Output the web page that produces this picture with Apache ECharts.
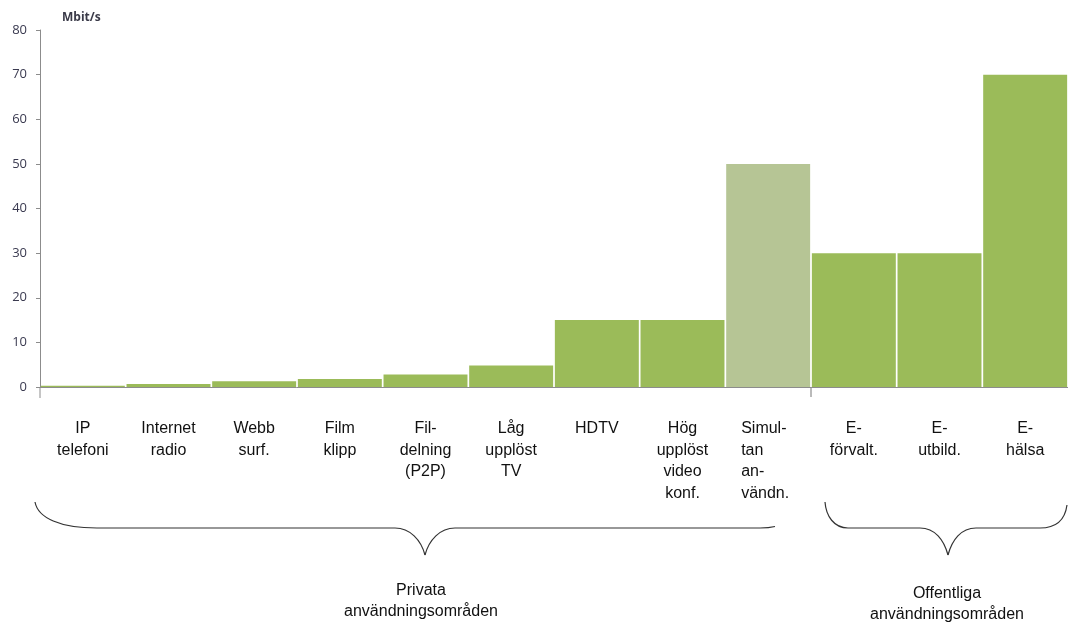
<!DOCTYPE html>
<html><head><meta charset="utf-8">
<script src="https://cdn.jsdelivr.net/npm/echarts@6/dist/echarts.min.js"></script>
<style>html,body{margin:0;padding:0;background:#fff}#c{width:1068px;height:623px}</style>
</head><body><div id="c"></div>
<script>
const categories = ["IP\ntelefoni","Internet\nradio","Webb\nsurf.","Film\nklipp","Fil-\ndelning\n(P2P)","Låg\nupplöst\nTV","HDTV","Hög\nupplöst\nvideo\nkonf.","Simul-\ntan\nan-\nvändn.","E-\nförvalt.","E-\nutbild.","E-\nhälsa"];
const values = [0.3, 0.7, 1.3, 1.8, 2.8, 4.8, 15, 15, 50, 30, 30, 70];
const yTicks = [0, 10, 20, 30, 40, 50, 60, 70, 80];
const unitLabel = "Mbit/s";
const groupLabels = ["Privata\nanvändningsområden", "Offentliga\nanvändningsområden"];
const highlightIndex = 8;
const groupSplitIndex = 9;

const chart = echarts.init(document.getElementById('c'));
const green = '#9bbb59', pale = '#b6c595';
const braceStyle = {fill: null, stroke: '#333', lineWidth: 1.2};
let gid = 0;
function bz(x1,y1,c1x,c1y,c2x,c2y,x2,y2){return {id: 'b' + (gid++), type:'bezierCurve', shape:{x1:x1,y1:y1,cpx1:c1x,cpy1:c1y,cpx2:c2x,cpy2:c2y,x2:x2,y2:y2}, style: braceStyle};}
function ln(x1,y1,x2,y2){return {id: 'b' + (gid++), type:'line', shape:{x1:x1,y1:y1,x2:x2,y2:y2}, style: braceStyle};}
const labelFont = {fontFamily: 'Liberation Sans, Arial', fontSize: 16, lineHeight: 21.5, color: '#111'};
chart.setOption({
  animation: false,
  grid: {left: 40, right: 0, top: 30, bottom: 236, containLabel: false},
  xAxis: {
    type: 'category', data: categories,
    axisLine: {lineStyle: {color: '#8c8c8c', width: 1}},
    axisTick: {show: false},
    axisLabel: Object.assign({interval: 0, margin: 31, verticalAlign: 'top',
      formatter: function(v, i){ return i === highlightIndex ? v.split('\n').map(s => '{s|' + s + '}').join('\n') : v; },
      rich: {s: Object.assign({width: 54, align: 'left'}, labelFont)}}, labelFont)
  },
  yAxis: {
    type: 'value', min: yTicks[0], max: yTicks[yTicks.length-1], interval: yTicks[1]-yTicks[0],
    name: unitLabel, nameLocation: 'end', nameGap: 6,
    nameTextStyle: {align: 'left', padding: [0,0,0,22], fontWeight: 'bold', fontSize: 12, color: '#3a3a48', fontFamily: 'Open Sans, sans-serif'},
    splitLine: {show: false},
    axisLine: {show: true, lineStyle: {color: '#8c8c8c'}},
    axisTick: {show: true, length: 4, lineStyle: {color: '#8c8c8c'}},
    axisLabel: {color: '#3a3a50', fontSize: 13, fontFamily: 'Open Sans, sans-serif', margin: 13}
  },
  series: [{
    type: 'bar', barCategoryGap: '2%',
    data: values.map((v, i) => ({value: v, itemStyle: {color: i === highlightIndex ? pale : green}})),
  }],
  graphic: [
    bz(35,502, 38,518, 60,528, 97,528), ln(97,528,395,528), bz(395,528, 410,528, 421,540, 425,555),
    bz(425,555, 429,540, 440,528, 455,528), ln(455,528,760,528), bz(760,528, 766,528, 771,527.5, 775,526.5),
    bz(825,502, 826,516, 834,528, 848,528), ln(848,528,920,528), bz(920,528, 935,528, 944,540, 948,555),
    bz(948,555, 952,540, 961,528, 976,528), ln(976,528,1040,528), bz(1040,528, 1056,528, 1065,520, 1067,505),
    {id: 't1', type: 'text', x: 421, y: 580, style: {text: groupLabels[0], textAlign: 'center', fill: '#111', font: '16px "Liberation Sans", Arial', lineHeight: 21}},
    {id: 't2', type: 'text', x: 947, y: 583, style: {text: groupLabels[1], textAlign: 'center', fill: '#111', font: '16px "Liberation Sans", Arial', lineHeight: 21}},
    {id: 'yext', type: 'line', shape: {x1: 40, y1: 387, x2: 40, y2: 398}, style: {stroke: '#8c8c8c', lineWidth: 1}}
  ]
});
// group separator tick on the x axis, placed through the axis scale
const xa = chart.convertToPixel({xAxisIndex: 0}, groupSplitIndex - 1);
const xb = chart.convertToPixel({xAxisIndex: 0}, groupSplitIndex);
const y0 = chart.convertToPixel({yAxisIndex: 0}, 0);
chart.setOption({graphic: {elements: [{id: 'sepTick', type: 'line', shape: {x1: (xa + xb) / 2, y1: y0, x2: (xa + xb) / 2, y2: y0 + 10}, style: {stroke: '#777', lineWidth: 1}}]}});
</script></body></html>
